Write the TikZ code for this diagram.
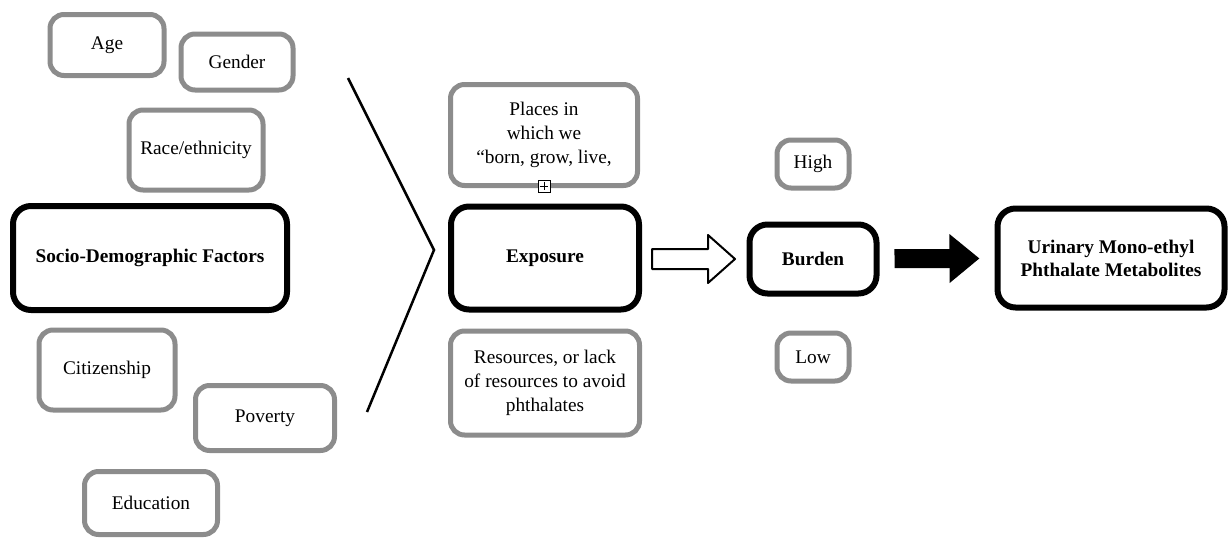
\documentclass[tikz,border=0pt]{standalone}
\usepackage{fontspec}
\setmainfont{Liberation Serif}
\usetikzlibrary{calc,positioning,arrows.meta}
\definecolor{boxgray}{RGB}{140,140,140}

\begin{document}
\begin{tikzpicture}[x=1pt,y=-1pt,
gbox/.style={draw=boxgray, line width=5pt, rounded corners=14pt, fill=white, align=center, font=\fontsize{19.3}{24}\selectfont},
bbox/.style={draw=black, line width=6pt, rounded corners=18pt, fill=white, align=center, font=\bfseries\fontsize{19.3}{23}\selectfont}]
\tikzstyle{plusbox}=[draw, line width=0.8pt, fill=white, minimum size=12, inner sep=0pt]
\useasboundingbox (0,0) rectangle (1231,538);
% factors
\node[gbox, minimum width=114, minimum height=61] (age) at (107,45) {Age};
\node[gbox, minimum width=112, minimum height=56] (gen) at (237,62) {Gender};
\node[gbox, minimum width=134, minimum height=80] (race) at (196,150) {Race/ethnicity};
\node[bbox, minimum width=274, minimum height=104] (sdf) at (150,258) {Socio-Demographic Factors};
\node[gbox, minimum width=136, minimum height=80] (cit) at (107,370) {Citizenship};
\node[gbox, minimum width=139, minimum height=65] (pov) at (265,418) {Poverty};
\node[gbox, minimum width=133, minimum height=63] (edu) at (151,503) {Education};
\draw[line width=2.5pt] (348,78) -- (434,250) -- (367,412);
% exposure column
\node[gbox, minimum width=187, minimum height=101] (plc) at (544,135) {Places in\\which we\\``born, grow, live,};
\node[plusbox] (plus) at (544,186) {};
\draw[line width=0.8pt] ([yshift=-2pt]plus.north) -- ([yshift=2pt]plus.south) ([xshift=2pt]plus.west) -- ([xshift=-2pt]plus.east);
\node[bbox, minimum width=188, minimum height=103] (expo) at (545,258) {Exposure};
\node[gbox, minimum width=189, minimum height=104] (res) at (545,383) {Resources, or lack\\of resources to avoid\\phthalates};
% burden
\node[gbox, minimum width=72, minimum height=48] (high) at (813,164) {High};
\node[bbox, minimum width=127, minimum height=69] (burd) at (813,259) {Burden};
\node[gbox, minimum width=72, minimum height=48] (low) at (813,357) {Low};
\node[bbox, minimum width=227, minimum height=99] (ume) at (1111,258) {Urinary Mono-ethyl\\Phthalate Metabolites};
% arrows
\coordinate (oa) at ($(expo.east)+(10,1)$);
\draw[line width=2pt, line join=round, fill=white] (oa) ++(0,-10) -- ++(56,0) -- ++(0,-14) -- ++(27,24) -- ++(-27,24) -- ++(0,-14) -- ++(-56,0) -- cycle;
\draw[line width=19pt, -{Triangle[length=30pt,width=47pt]}, shorten <=15pt, shorten >=15pt] (burd) -- (ume);
\end{tikzpicture}
\end{document}
